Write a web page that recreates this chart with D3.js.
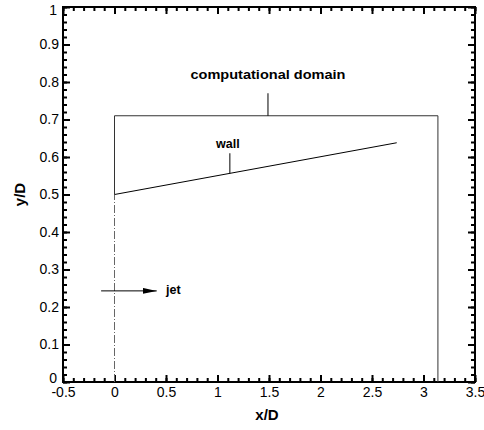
<!DOCTYPE html>
<html>
<head>
<meta charset="utf-8">
<script src="https://cdn.jsdelivr.net/npm/d3@7"></script>
<style>
  html, body { margin: 0; padding: 0; background: #fff; }
  svg { display: block; font-family: "Liberation Sans", Arial, sans-serif; }
</style>
</head>
<body>
<svg id="chart" width="484" height="430"></svg>
<script>
// Axis ranges and tick values
const xDomain = [-0.5, 3.5];
const yDomain = [0, 1];
const xMajorTicks = [-0.5, 0, 0.5, 1, 1.5, 2, 2.5, 3, 3.5];
const yMajorTicks = [0, 0.1, 0.2, 0.3, 0.4, 0.5, 0.6, 0.7, 0.8, 0.9, 1];
const xMinorStep = 0.1;
const yMinorStep = 0.02;

// Geometry of the sketch (in x/D, y/D units)
const domainOutline = [[0, 0.5], [0, 0.71], [3.14, 0.71], [3.14, 0]];
const wallLine = [[0, 0.5], [2.74, 0.638]];
const symmetryLine = [[0, 0], [0, 0.5]];
const jetArrow = [[-0.13, 0.243], [0.41, 0.243]];
const domainLeader = [[1.49, 0.71], [1.49, 0.77]];
const wallLeader = [[1.12, 0.5 + 0.138 * 1.12 / 2.74], [1.12, 0.61]];

// Annotation texts
const labelTexts = ["computational domain", "wall", "jet"];
const labelPositions = [[1.49, 0.808, "middle"], [1.10, 0.624, "middle"], [0.50, 0.236, "start"]];

const xTitle = "x/D";
const yTitle = "y/D";

const svg = d3.select("#chart");
const margin = { left: 63, right: 9, top: 7, bottom: 48 };
const W = 484, H = 430;
const x = d3.scaleLinear().domain(xDomain).range([margin.left, W - margin.right]);
const y = d3.scaleLinear().domain(yDomain).range([H - margin.bottom, margin.top]);

const range = (a, b, s) => d3.range(Math.round((b - a) / s) + 1).map(i => +(a + i * s).toFixed(4));
const xMinorTicks = range(xDomain[0], xDomain[1], xMinorStep);
const yMinorTicks = range(yDomain[0], yDomain[1], yMinorStep);

const fmt = d => String(d);

function styleAxis(g) {
  g.select(".domain").remove();
  g.selectAll(".tick line").attr("stroke", "#000").attr("stroke-width", 2);
  g.selectAll(".tick text").attr("fill", "#000").attr("font-size", 14)
    .attr("font-family", "Liberation Sans, Arial, sans-serif");
}

// Minor ticks (all four sides, inward)
const minorLen = 4, majorLen = 7;
svg.append("g").attr("transform", `translate(0,${y(0)})`)
  .call(d3.axisBottom(x).tickValues(xMinorTicks).tickSize(-minorLen).tickFormat("")).call(styleAxis);
svg.append("g").attr("transform", `translate(0,${y(1)})`)
  .call(d3.axisTop(x).tickValues(xMinorTicks).tickSize(-minorLen).tickFormat("")).call(styleAxis);
svg.append("g").attr("transform", `translate(${x(xDomain[0])},0)`)
  .call(d3.axisLeft(y).tickValues(yMinorTicks).tickSize(-minorLen).tickFormat("")).call(styleAxis);
svg.append("g").attr("transform", `translate(${x(xDomain[1])},0)`)
  .call(d3.axisRight(y).tickValues(yMinorTicks).tickSize(-minorLen).tickFormat("")).call(styleAxis);

// Major ticks with labels on bottom and left
svg.append("g").attr("transform", `translate(0,${y(0)})`)
  .call(d3.axisBottom(x).tickValues(xMajorTicks).tickSize(-majorLen).tickPadding(5).tickFormat(fmt))
  .call(styleAxis);
svg.append("g").attr("transform", `translate(0,${y(1)})`)
  .call(d3.axisTop(x).tickValues(xMajorTicks).tickSize(-majorLen).tickFormat("")).call(styleAxis);
const yAx = svg.append("g").attr("transform", `translate(${x(xDomain[0])},0)`)
  .call(d3.axisLeft(y).tickValues(yMajorTicks).tickSize(-majorLen).tickPadding(4).tickFormat(fmt))
  .call(styleAxis);
svg.append("g").attr("transform", `translate(${x(xDomain[1])},0)`)
  .call(d3.axisRight(y).tickValues(yMajorTicks).tickSize(-majorLen).tickFormat("")).call(styleAxis);

// the corner labels sit slightly off the corner
yAx.selectAll(".tick").filter(d => d === 0 || d === 1).select("text").attr("x", -6);
yAx.selectAll(".tick").filter(d => d === 1).select("text").attr("dy", "0.55em");
yAx.selectAll(".tick").filter(d => d === 0).select("text").attr("dy", "0.02em");

// Frame
svg.append("rect")
  .attr("x", x(xDomain[0])).attr("y", y(yDomain[1]))
  .attr("width", x(xDomain[1]) - x(xDomain[0])).attr("height", y(yDomain[0]) - y(yDomain[1]))
  .attr("fill", "none").attr("stroke", "#000").attr("stroke-width", 2);

const line = d3.line().x(d => x(d[0])).y(d => y(d[1]));

// Computational domain outline
svg.append("path").attr("d", line(domainOutline))
  .attr("fill", "none").attr("stroke", "#333").attr("stroke-width", 1);

// Symmetry axis (dash-dot)
svg.append("path").attr("d", line(symmetryLine))
  .attr("fill", "none").attr("stroke", "#666").attr("stroke-width", 1)
  .attr("stroke-dasharray", "8,2,1,2");

// Wall
svg.append("path").attr("d", line(wallLine))
  .attr("fill", "none").attr("stroke", "#000").attr("stroke-width", 1);

// Leader lines
[domainLeader, wallLeader].forEach(l =>
  svg.append("path").attr("d", line(l)).attr("fill", "none").attr("stroke", "#000").attr("stroke-width", 1));

// Jet arrow
svg.append("defs").append("marker")
  .attr("id", "arrowhead").attr("viewBox", "0 0 14 6").attr("refX", 14).attr("refY", 3)
  .attr("markerWidth", 14).attr("markerHeight", 6).attr("markerUnits", "userSpaceOnUse")
  .attr("orient", "auto")
  .append("path").attr("d", "M0,0 L14,3 L0,6 Z").attr("fill", "#000");
svg.append("path").attr("d", line(jetArrow))
  .attr("fill", "none").attr("stroke", "#000").attr("stroke-width", 1)
  .attr("marker-end", "url(#arrowhead)");

// Annotation labels
labelTexts.forEach((t, i) => {
  const p = labelPositions[i];
  const txt = svg.append("text").attr("x", x(p[0])).attr("y", y(p[1]))
    .attr("text-anchor", p[2]).attr("font-size", 12.5).attr("font-weight", "bold")
    .attr("fill", "#000").text(t);
  if (i === 0) txt.attr("font-size", 13).attr("textLength", 155).attr("lengthAdjust", "spacingAndGlyphs");
});

// Axis titles
svg.append("text").attr("x", 267).attr("y", 420).attr("text-anchor", "middle")
  .attr("font-size", 15).attr("font-weight", "bold").text(xTitle);
svg.append("text").attr("transform", `translate(25,${y(0.5)}) rotate(-90)`)
  .attr("text-anchor", "middle").attr("font-size", 15).attr("font-weight", "bold").text(yTitle);
</script>
</body>
</html>
